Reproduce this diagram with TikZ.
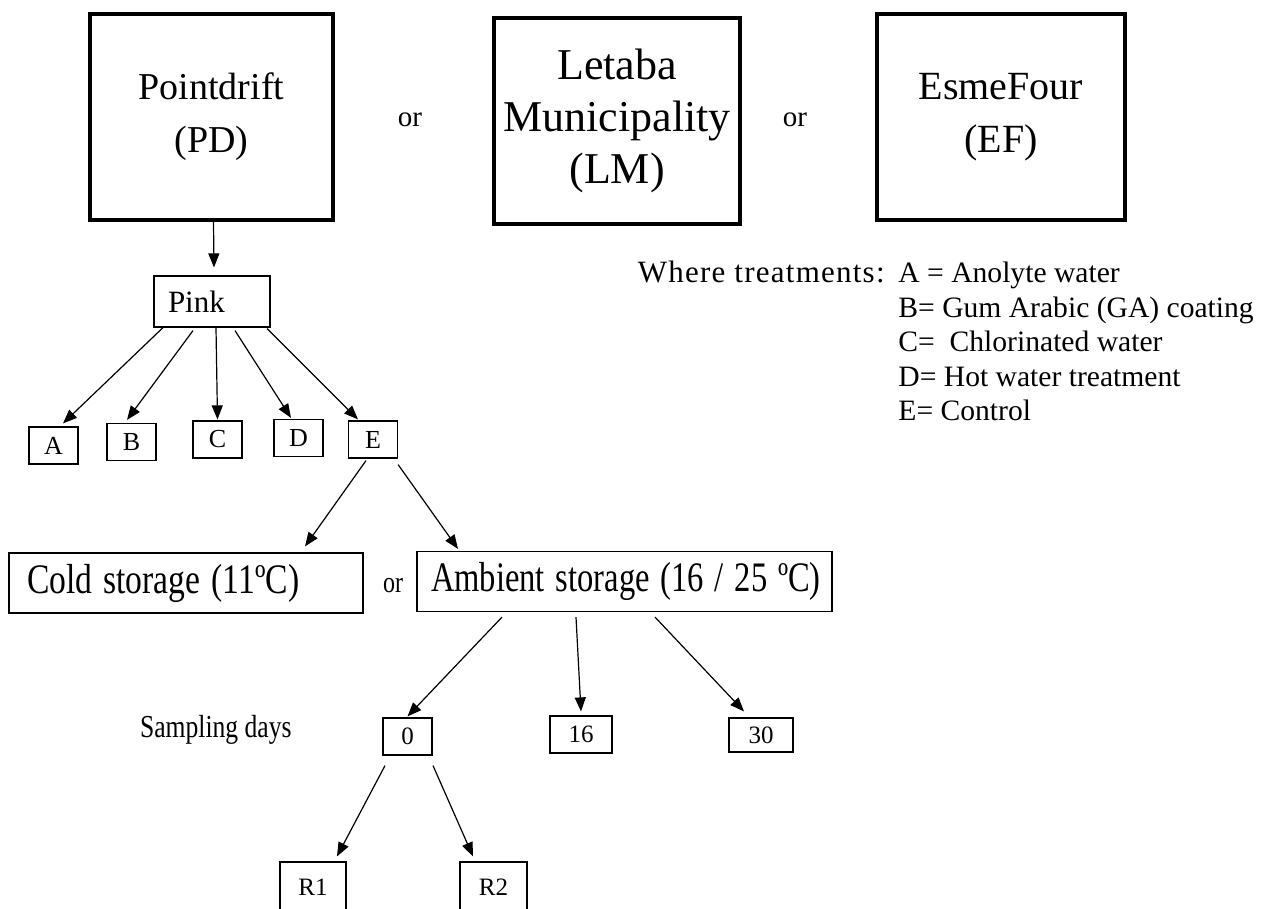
\documentclass[tikz,border=0pt]{standalone}
\usepackage{fontspec}
\setmainfont{Liberation Serif}
\newfontfamily\widefont[LetterSpace=4]{Liberation Serif}
\usetikzlibrary{arrows.meta}
\newcommand{\narrow}[2][0.8]{\scalebox{#1}[1]{#2}}
\tikzstyle{site} = [rectangle, line width=2pt, draw=black, minimum height=103pt, align=center]
\tikzstyle{stage} = [rectangle, semithick, draw=black, font=\fontsize{15.5pt}{18pt}\selectfont]
\tikzstyle{treat} = [rectangle, semithick, draw=black, minimum width=24.5pt, minimum height=18.5pt, inner sep=0pt, font=\fontsize{13pt}{15pt}\selectfont]
\tikzstyle{storage} = [rectangle, semithick, draw=black, minimum height=30pt, align=left, inner ysep=0pt, font=\fontsize{21pt}{24pt}\selectfont]
\tikzstyle{day} = [rectangle, semithick, draw=black, minimum height=18.5pt, inner sep=0pt, font=\fontsize{12.5pt}{14pt}\selectfont]
\tikzstyle{ortext} = [font=\fontsize{14.5pt}{17pt}\selectfont]
\tikzstyle{legend} = [inner sep=0pt, font=\fontsize{14.8pt}{17.25pt}\selectfont]
\tikzstyle{arrow} = [semithick, ->, >={Triangle[length=7pt, width=5.5pt]}]

\begin{document}
\begin{tikzpicture}[x=0.5pt, y=-0.5pt]
        \clip (0,0) rectangle (1268,909);
        \node (pd) [site, minimum width=121.5pt, font=\fontsize{19pt}{26.5pt}\selectfont] at (211.5,117) {Pointdrift\\(PD)};
        \node (or1) [ortext] at (410,120) {or};
        \node (lm) [site, minimum width=123pt, font=\fontsize{22pt}{26pt}\selectfont] at (617,121) {Letaba\\Municipality\\(LM)};
        \node (or2) [ortext] at (795,120) {or};
        \node (ef) [site, minimum width=124pt, font=\fontsize{20pt}{26.5pt}\selectfont] at (1001,117) {EsmeFour\\(EF)};

        \node (pink) [stage, minimum width=58pt, minimum height=25.5pt, inner xsep=7pt, text width=44pt, align=left] at (212,301.5) {Pink};
        \node (ta) [treat] at (53.5,445.5) {A};
        \node (tb) [treat] at (131.5,442) {B};
        \node (tc) [treat] at (217.5,439.5) {C};
        \node (td) [treat] at (298.5,438) {D};
        \node (te) [treat] at (373,439.5) {E};

        \node (legendhead) [legend, anchor=base east, font=\widefont\fontsize{15.5pt}{17.25pt}\selectfont] at (885,282) {Where treatments:};
        \node (legend) [legend, anchor=north west, align=left] at (898,262) {A = Anolyte water\\B= Gum Arabic (GA) coating\\C=\ \ Chlorinated water\\D= Hot water treatment\\E= Control};

        \node (cold) [storage, inner xsep=9pt, text width=159pt] at (186,583) {\narrow{Cold storage (11ºC)}};
        \node (or3) [ortext, font=\fontsize{15pt}{17pt}\selectfont] at (393,586) {\narrow{or}};
        \node (ambient) [storage, inner xsep=7pt, text width=193.5pt] at (624.5,581.5) {\narrow[0.775]{Ambient storage (16 / 25 ºC)}};

        \node (sampling) [ortext, anchor=east, inner sep=0pt, font=\fontsize{16pt}{18pt}\selectfont] at (292,730) {\narrow{Sampling days}};
        \node (d0) [day, minimum width=24.5pt] at (407.5,736.5) {0};
        \node (d16) [day, minimum width=31pt] at (581,734.5) {16};
        \node (d30) [day, minimum width=32pt, minimum height=17pt] at (761,735) {30};
        \node (r1) [day, minimum width=33pt, minimum height=25pt] at (313,887) {R1};
        \node (r2) [day, minimum width=33.5pt, minimum height=25pt] at (493.5,887) {R2};

        \draw [arrow] ([xshift=1pt]pd.south) -- ([xshift=1pt, yshift=4pt]pink.north);
        \draw [arrow] ([xshift=-24.5pt]pink.south) -- ([xshift=4.75pt, yshift=1.5pt]ta.north);
        \draw [arrow] ([xshift=-9.5pt, yshift=-1.5pt]pink.south) -- ([xshift=-2.25pt, yshift=1.5pt]tb.north);
        \draw [arrow] ([xshift=2pt]pink.south) -- ([yshift=0.5pt]tc.north);
        \draw [arrow] ([xshift=11.5pt, yshift=-1.5pt]pink.south) -- ([xshift=-3.75pt, yshift=0.5pt]td.north);
        \draw [arrow] ([xshift=27.5pt, yshift=-0.5pt]pink.south) -- ([xshift=-7.5pt, yshift=0.5pt]te.north);
        \draw [arrow] ([xshift=-3.5pt, yshift=-1pt]te.south) -- ([xshift=59.5pt, yshift=3pt]cold.north);
        \draw [arrow] ([yshift=-3pt]te.south east) -- ([xshift=-83.25pt, yshift=1pt]ambient.north);
        \draw [arrow] ([xshift=-61.25pt, yshift=-2.5pt]ambient.south) -- ([yshift=0.5pt]d0.north);
        \draw [arrow] ([xshift=-24.25pt, yshift=-2.5pt]ambient.south) -- ([yshift=2pt]d16.north);
        \draw [arrow] ([xshift=15.25pt, yshift=-2.5pt]ambient.south) -- ([xshift=-8.5pt, yshift=3pt]d30.north);
        \draw [arrow] ([xshift=-11.25pt, yshift=-5pt]d0.south) -- ([xshift=12pt, yshift=2.5pt]r1.north);
        \draw [arrow] ([xshift=12.75pt, yshift=-5pt]d0.south) -- ([xshift=-10.25pt, yshift=2.5pt]r2.north);
\end{tikzpicture}
\end{document}
